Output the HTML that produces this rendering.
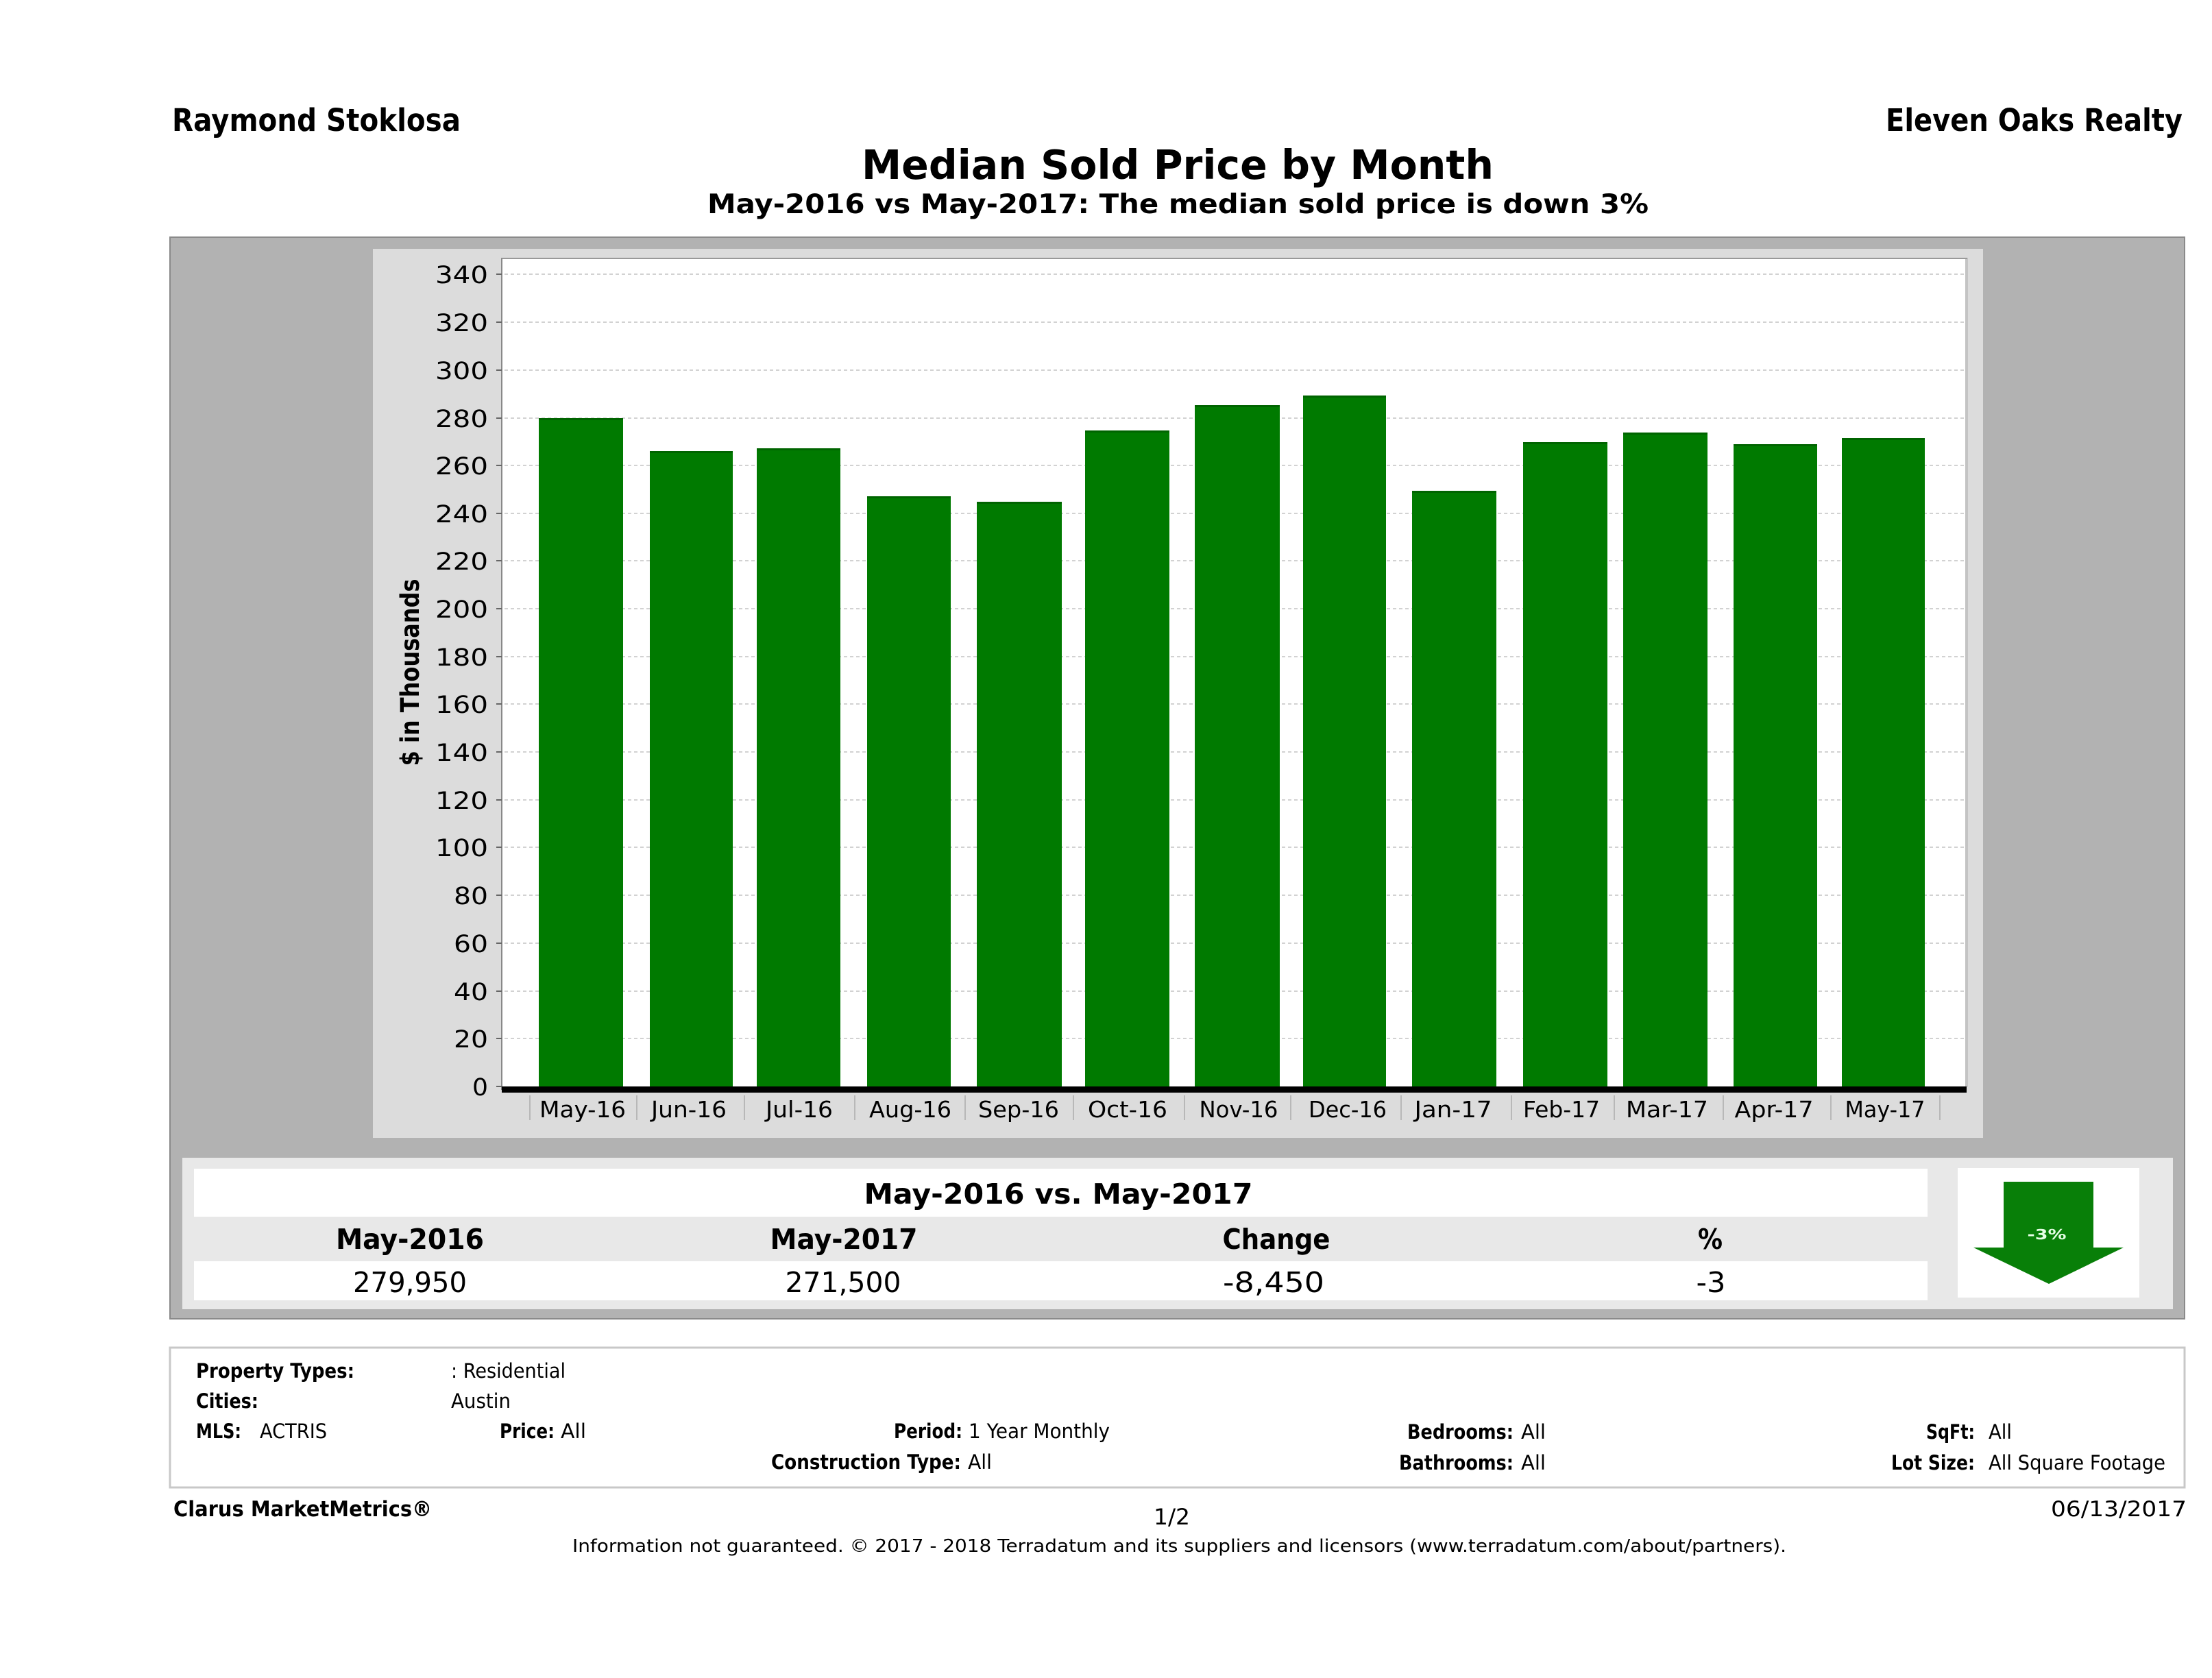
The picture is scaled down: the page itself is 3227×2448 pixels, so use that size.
<!DOCTYPE html>
<html>
<head>
<meta charset="utf-8">
<style>
html,body{margin:0;padding:0;background:#fff;}
svg{display:block;}
text{font-family:"DejaVu Sans","Liberation Sans",sans-serif;fill:#000;}
.b{font-weight:bold;}
</style>
</head>
<body>
<svg width="3227" height="2448" viewBox="0 0 3227 2448" xmlns="http://www.w3.org/2000/svg">
<rect x="0" y="0" width="3227" height="2448" fill="#ffffff"/>

<!-- Header -->
<text class="b" x="251" y="191" font-size="45" textLength="421" lengthAdjust="spacingAndGlyphs">Raymond Stoklosa</text>
<text class="b" x="2751" y="191" font-size="45" textLength="433" lengthAdjust="spacingAndGlyphs">Eleven Oaks Realty</text>
<text class="b" x="1257" y="261" font-size="59" textLength="922" lengthAdjust="spacingAndGlyphs">Median Sold Price by Month</text>
<text class="b" x="1032" y="311" font-size="39" textLength="1373" lengthAdjust="spacingAndGlyphs">May-2016 vs May-2017: The median sold price is down 3%</text>

<!-- Outer gray panel -->
<rect x="248" y="346" width="2939" height="1578" fill="#b2b2b2" stroke="#8a8a8a" stroke-width="2"/>

<!-- Chart inner panel -->
<rect x="544" y="363" width="2349" height="1297" fill="#dcdcdc"/>

<!-- Plot area -->
<rect x="732" y="377" width="2136" height="1209" fill="#ffffff"/>
<line x1="2869" y1="376" x2="2869" y2="1586" stroke="#c4c4c4" stroke-width="4"/>
<line x1="731" y1="377" x2="2870" y2="377" stroke="#999" stroke-width="2"/>
<line x1="732" y1="377" x2="732" y2="1590" stroke="#888" stroke-width="2"/>

<!-- Gridlines -->
<g stroke="#d2d2d2" stroke-width="2" stroke-dasharray="5,4">
<line x1="736" y1="400" x2="2866" y2="400"/>
<line x1="736" y1="470" x2="2866" y2="470"/>
<line x1="736" y1="540" x2="2866" y2="540"/>
<line x1="736" y1="610" x2="2866" y2="610"/>
<line x1="736" y1="679" x2="2866" y2="679"/>
<line x1="736" y1="749" x2="2866" y2="749"/>
<line x1="736" y1="818" x2="2866" y2="818"/>
<line x1="736" y1="888" x2="2866" y2="888"/>
<line x1="736" y1="958" x2="2866" y2="958"/>
<line x1="736" y1="1027" x2="2866" y2="1027"/>
<line x1="736" y1="1097" x2="2866" y2="1097"/>
<line x1="736" y1="1167" x2="2866" y2="1167"/>
<line x1="736" y1="1236" x2="2866" y2="1236"/>
<line x1="736" y1="1306" x2="2866" y2="1306"/>
<line x1="736" y1="1376" x2="2866" y2="1376"/>
<line x1="736" y1="1446" x2="2866" y2="1446"/>
<line x1="736" y1="1515" x2="2866" y2="1515"/>
</g>

<!-- Y ticks -->
<g stroke="#666" stroke-width="2">
<line x1="724" y1="400" x2="732" y2="400"/>
<line x1="724" y1="470" x2="732" y2="470"/>
<line x1="724" y1="540" x2="732" y2="540"/>
<line x1="724" y1="610" x2="732" y2="610"/>
<line x1="724" y1="679" x2="732" y2="679"/>
<line x1="724" y1="749" x2="732" y2="749"/>
<line x1="724" y1="818" x2="732" y2="818"/>
<line x1="724" y1="888" x2="732" y2="888"/>
<line x1="724" y1="958" x2="732" y2="958"/>
<line x1="724" y1="1027" x2="732" y2="1027"/>
<line x1="724" y1="1097" x2="732" y2="1097"/>
<line x1="724" y1="1167" x2="732" y2="1167"/>
<line x1="724" y1="1236" x2="732" y2="1236"/>
<line x1="724" y1="1306" x2="732" y2="1306"/>
<line x1="724" y1="1376" x2="732" y2="1376"/>
<line x1="724" y1="1446" x2="732" y2="1446"/>
<line x1="724" y1="1515" x2="732" y2="1515"/>
<line x1="724" y1="1585" x2="732" y2="1585"/>
</g>

<!-- Y tick labels -->
<g font-size="35" text-anchor="end" fill="#111">
<text x="712" y="413" textLength="77" lengthAdjust="spacingAndGlyphs">340</text>
<text x="712" y="483" textLength="77" lengthAdjust="spacingAndGlyphs">320</text>
<text x="712" y="553" textLength="77" lengthAdjust="spacingAndGlyphs">300</text>
<text x="712" y="623" textLength="77" lengthAdjust="spacingAndGlyphs">280</text>
<text x="712" y="692" textLength="77" lengthAdjust="spacingAndGlyphs">260</text>
<text x="712" y="762" textLength="77" lengthAdjust="spacingAndGlyphs">240</text>
<text x="712" y="831" textLength="77" lengthAdjust="spacingAndGlyphs">220</text>
<text x="712" y="901" textLength="77" lengthAdjust="spacingAndGlyphs">200</text>
<text x="712" y="971" textLength="77" lengthAdjust="spacingAndGlyphs">180</text>
<text x="712" y="1040" textLength="77" lengthAdjust="spacingAndGlyphs">160</text>
<text x="712" y="1110" textLength="77" lengthAdjust="spacingAndGlyphs">140</text>
<text x="712" y="1180" textLength="77" lengthAdjust="spacingAndGlyphs">120</text>
<text x="712" y="1249" textLength="77" lengthAdjust="spacingAndGlyphs">100</text>
<text x="712" y="1319" textLength="50" lengthAdjust="spacingAndGlyphs">80</text>
<text x="712" y="1389" textLength="50" lengthAdjust="spacingAndGlyphs">60</text>
<text x="712" y="1459" textLength="50" lengthAdjust="spacingAndGlyphs">40</text>
<text x="712" y="1528" textLength="50" lengthAdjust="spacingAndGlyphs">20</text>
<text x="712" y="1598" textLength="23" lengthAdjust="spacingAndGlyphs">0</text>
</g>

<!-- Y axis label -->
<text class="b" transform="translate(611,981) rotate(-90)" font-size="37" text-anchor="middle" textLength="273" lengthAdjust="spacingAndGlyphs">$ in Thousands</text>

<!-- Bars -->
<g fill="#007a00">
<rect x="786" y="610" width="123" height="976"/>
<rect x="948" y="658" width="121" height="928"/>
<rect x="1104" y="654" width="122" height="932"/>
<rect x="1265" y="724" width="122" height="862"/>
<rect x="1425" y="732" width="124" height="854"/>
<rect x="1583" y="628" width="123" height="958"/>
<rect x="1743" y="591" width="124" height="995"/>
<rect x="1901" y="577" width="121" height="1009"/>
<rect x="2060" y="716" width="123" height="870"/>
<rect x="2222" y="645" width="123" height="941"/>
<rect x="2368" y="631" width="123" height="955"/>
<rect x="2529" y="648" width="122" height="938"/>
<rect x="2687" y="639" width="121" height="947"/>
</g>
<g fill="#006400">
<rect x="786" y="610" width="123" height="3"/>
<rect x="948" y="658" width="121" height="3"/>
<rect x="1104" y="654" width="122" height="3"/>
<rect x="1265" y="724" width="122" height="3"/>
<rect x="1425" y="732" width="124" height="3"/>
<rect x="1583" y="628" width="123" height="3"/>
<rect x="1743" y="591" width="124" height="3"/>
<rect x="1901" y="577" width="121" height="3"/>
<rect x="2060" y="716" width="123" height="3"/>
<rect x="2222" y="645" width="123" height="3"/>
<rect x="2368" y="631" width="123" height="3"/>
<rect x="2529" y="648" width="122" height="3"/>
<rect x="2687" y="639" width="121" height="3"/>
</g>

<!-- X axis thick line -->
<rect x="732" y="1585" width="2137" height="9" fill="#000"/>

<!-- X separators -->
<g stroke="#b8b8b8" stroke-width="2">
<line x1="773" y1="1598" x2="773" y2="1634"/>
<line x1="929" y1="1598" x2="929" y2="1634"/>
<line x1="1086" y1="1598" x2="1086" y2="1634"/>
<line x1="1247" y1="1598" x2="1247" y2="1634"/>
<line x1="1408" y1="1598" x2="1408" y2="1634"/>
<line x1="1566" y1="1598" x2="1566" y2="1634"/>
<line x1="1728" y1="1598" x2="1728" y2="1634"/>
<line x1="1883" y1="1598" x2="1883" y2="1634"/>
<line x1="2044" y1="1598" x2="2044" y2="1634"/>
<line x1="2205" y1="1598" x2="2205" y2="1634"/>
<line x1="2355" y1="1598" x2="2355" y2="1634"/>
<line x1="2514" y1="1598" x2="2514" y2="1634"/>
<line x1="2671" y1="1598" x2="2671" y2="1634"/>
<line x1="2830" y1="1598" x2="2830" y2="1634"/>
</g>

<!-- X labels -->
<g font-size="33" text-anchor="middle" fill="#222">
<text x="850" y="1630" textLength="126" lengthAdjust="spacingAndGlyphs">May-16</text>
<text x="1005" y="1630" textLength="110" lengthAdjust="spacingAndGlyphs">Jun-16</text>
<text x="1166" y="1630" textLength="98" lengthAdjust="spacingAndGlyphs">Jul-16</text>
<text x="1328" y="1630" textLength="120" lengthAdjust="spacingAndGlyphs">Aug-16</text>
<text x="1486" y="1630" textLength="118" lengthAdjust="spacingAndGlyphs">Sep-16</text>
<text x="1645" y="1630" textLength="116" lengthAdjust="spacingAndGlyphs">Oct-16</text>
<text x="1807" y="1630" textLength="115" lengthAdjust="spacingAndGlyphs">Nov-16</text>
<text x="1966" y="1630" textLength="114" lengthAdjust="spacingAndGlyphs">Dec-16</text>
<text x="2120" y="1630" textLength="113" lengthAdjust="spacingAndGlyphs">Jan-17</text>
<text x="2278" y="1630" textLength="112" lengthAdjust="spacingAndGlyphs">Feb-17</text>
<text x="2432" y="1630" textLength="120" lengthAdjust="spacingAndGlyphs">Mar-17</text>
<text x="2588" y="1630" textLength="115" lengthAdjust="spacingAndGlyphs">Apr-17</text>
<text x="2750" y="1630" textLength="117" lengthAdjust="spacingAndGlyphs">May-17</text>
</g>

<!-- Table container -->
<rect x="266" y="1689" width="2904" height="221" fill="#e8e8e8"/>
<rect x="283" y="1705" width="2529" height="70" fill="#ffffff"/>
<rect x="283" y="1840" width="2529" height="57" fill="#ffffff"/>

<text class="b" x="1544" y="1756" font-size="41" text-anchor="middle" textLength="567" lengthAdjust="spacingAndGlyphs">May-2016 vs. May-2017</text>

<g class="b" font-size="41" text-anchor="middle" font-weight="bold">
<text x="598" y="1822" textLength="216" lengthAdjust="spacingAndGlyphs">May-2016</text>
<text x="1231" y="1822" textLength="215" lengthAdjust="spacingAndGlyphs">May-2017</text>
<text x="1862" y="1822" textLength="157" lengthAdjust="spacingAndGlyphs">Change</text>
<text x="2495" y="1822" textLength="36" lengthAdjust="spacingAndGlyphs">%</text>
</g>
<g font-size="41" text-anchor="middle">
<text x="598" y="1885" textLength="166" lengthAdjust="spacingAndGlyphs">279,950</text>
<text x="1230" y="1885" textLength="169" lengthAdjust="spacingAndGlyphs">271,500</text>
<text x="1858" y="1885" textLength="148" lengthAdjust="spacingAndGlyphs">-8,450</text>
<text x="2496" y="1885" textLength="43" lengthAdjust="spacingAndGlyphs">-3</text>
</g>

<!-- Arrow box -->
<rect x="2856" y="1704" width="265" height="189" fill="#ffffff"/>
<polygon points="2923,1724 3054,1724 3054,1820 3098,1820 2989,1873 2879,1820 2923,1820" fill="#087f08"/>
<text class="b" x="2986" y="1808" font-size="20" text-anchor="middle" fill="#e6ffe6" style="fill:#e6ffe6" textLength="57" lengthAdjust="spacingAndGlyphs">-3%</text>

<!-- Info box -->
<rect x="248" y="1966" width="2939" height="204" fill="#ffffff" stroke="#c8c8c8" stroke-width="3"/>

<g font-size="29">
<text class="b" x="286" y="2010" textLength="231" lengthAdjust="spacingAndGlyphs">Property Types:</text>
<text x="658" y="2010" textLength="167" lengthAdjust="spacingAndGlyphs">: Residential</text>
<text class="b" x="286" y="2054" textLength="91" lengthAdjust="spacingAndGlyphs">Cities:</text>
<text x="658" y="2054" textLength="87" lengthAdjust="spacingAndGlyphs">Austin</text>
<text class="b" x="286" y="2098" textLength="66" lengthAdjust="spacingAndGlyphs">MLS:</text>
<text x="379" y="2098" textLength="98" lengthAdjust="spacingAndGlyphs">ACTRIS</text>
<text class="b" x="729" y="2098" textLength="80" lengthAdjust="spacingAndGlyphs">Price:</text>
<text x="818" y="2098" textLength="37" lengthAdjust="spacingAndGlyphs">All</text>
<text class="b" x="1304" y="2098" textLength="100" lengthAdjust="spacingAndGlyphs">Period:</text>
<text x="1413" y="2098" textLength="206" lengthAdjust="spacingAndGlyphs">1 Year Monthly</text>
<text class="b" x="1125" y="2143" textLength="277" lengthAdjust="spacingAndGlyphs">Construction Type:</text>
<text x="1412" y="2143" textLength="35" lengthAdjust="spacingAndGlyphs">All</text>
<text class="b" x="2053" y="2099" textLength="155" lengthAdjust="spacingAndGlyphs">Bedrooms:</text>
<text x="2219" y="2099" textLength="36" lengthAdjust="spacingAndGlyphs">All</text>
<text class="b" x="2041" y="2144" textLength="167" lengthAdjust="spacingAndGlyphs">Bathrooms:</text>
<text x="2219" y="2144" textLength="36" lengthAdjust="spacingAndGlyphs">All</text>
<text class="b" x="2810" y="2099" textLength="71" lengthAdjust="spacingAndGlyphs">SqFt:</text>
<text x="2901" y="2099" textLength="34" lengthAdjust="spacingAndGlyphs">All</text>
<text class="b" x="2759" y="2144" textLength="122" lengthAdjust="spacingAndGlyphs">Lot Size:</text>
<text x="2901" y="2144" textLength="258" lengthAdjust="spacingAndGlyphs">All Square Footage</text>
</g>

<!-- Footer -->
<text class="b" x="253" y="2212" font-size="31" textLength="377" lengthAdjust="spacingAndGlyphs">Clarus MarketMetrics®</text>
<text x="1683" y="2224" font-size="32" textLength="53" lengthAdjust="spacingAndGlyphs">1/2</text>
<text x="2992" y="2212" font-size="31" textLength="198" lengthAdjust="spacingAndGlyphs">06/13/2017</text>
<text x="835" y="2264" font-size="26" textLength="1771" lengthAdjust="spacingAndGlyphs">Information not guaranteed. © 2017 - 2018 Terradatum and its suppliers and licensors (www.terradatum.com/about/partners).</text>
</svg>
</body>
</html>
